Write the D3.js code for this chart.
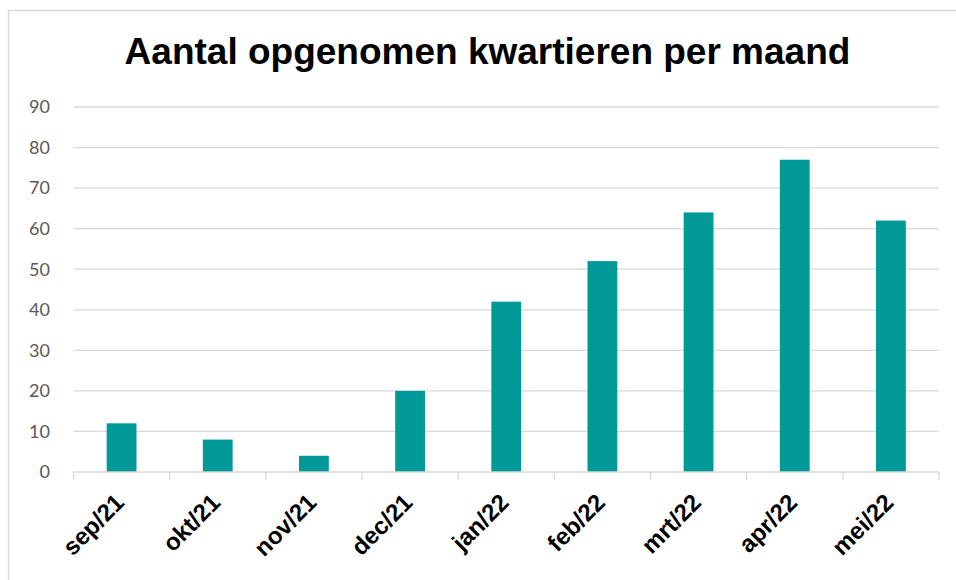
<!DOCTYPE html>
<html>
<head>
<meta charset="utf-8">
<script src="https://cdn.jsdelivr.net/npm/d3@7"></script>
<style>
  body { margin: 0; background: #fff; }
  svg { display: block; }
</style>
</head>
<body>
<script>
// data
var months = ["sep/21", "okt/21", "nov/21", "dec/21", "jan/22", "feb/22", "mrt/22", "apr/22", "mei/22"];
var kwartieren = [12, 8, 4, 20, 42, 52, 64, 77, 62];
var yTicks = [0, 10, 20, 30, 40, 50, 60, 70, 80, 90];
var title = "Aantal opgenomen kwartieren per maand";

var width = 956, height = 580;
var margin = { top: 107, right: 17, bottom: 108, left: 73.5 };

var svg = d3.select("body").append("svg")
    .attr("width", width)
    .attr("height", height);

// chart border
svg.append("rect")
    .attr("x", 8.5).attr("y", 10.5)
    .attr("width", 980).attr("height", 620)
    .attr("fill", "none")
    .attr("stroke", "#d9d9d9")
    .attr("stroke-width", 1.5);

svg.append("text")
    .attr("x", 487.5).attr("y", 64)
    .attr("text-anchor", "middle")
    .attr("font-family", "Liberation Sans, Arial, sans-serif")
    .attr("font-weight", "bold")
    .attr("font-size", 37)
    .attr("fill", "#000")
    .text(title);

var x = d3.scaleBand()
    .domain(months)
    .range([margin.left, width - margin.right])
    .paddingInner(0.69)
    .paddingOuter(0.345);

var xOuter = d3.scaleBand()
    .domain(months)
    .range([margin.left, width - margin.right]);

var y = d3.scaleLinear()
    .domain([0, 90])
    .range([height - margin.bottom, margin.top]);

// gridlines
svg.append("g")
    .selectAll("line")
    .data(yTicks.filter(function (d) { return d > 0; }))
    .enter().append("line")
    .attr("x1", margin.left).attr("x2", width - margin.right)
    .attr("y1", function (d) { return y(d); })
    .attr("y2", function (d) { return y(d); })
    .attr("stroke", "#d9d9d9")
    .attr("stroke-width", 1.3);

// y labels
svg.append("g")
    .selectAll("text")
    .data(yTicks)
    .enter().append("text")
    .attr("x", 50)
    .attr("y", function (d) { return y(d); })
    .attr("dy", "0.35em")
    .attr("text-anchor", "end")
    .attr("font-family", "Lato, Open Sans, sans-serif")
    .attr("font-size", 18)
    .attr("fill", "#595959")
    .text(function (d) { return d; });

// bars
svg.append("g")
    .selectAll("rect")
    .data(kwartieren)
    .enter().append("rect")
    .attr("x", function (d, i) { return x(months[i]); })
    .attr("width", x.bandwidth())
    .attr("y", function (d) { return y(d); })
    .attr("height", function (d) { return y(0) - y(d); })
    .attr("fill", "#009999");

// x axis line and ticks
var base = y(0);
var axis = svg.append("g");
axis.append("line")
    .attr("x1", margin.left).attr("x2", width - margin.right)
    .attr("y1", base).attr("y2", base)
    .attr("stroke", "#d9d9d9")
    .attr("stroke-width", 1.3);
axis.selectAll("line.tick")
    .data(months.concat(["end"]))
    .enter().append("line")
    .attr("class", "tick")
    .attr("x1", function (d, i) { return i < months.length ? xOuter(d) : width - margin.right; })
    .attr("x2", function (d, i) { return i < months.length ? xOuter(d) : width - margin.right; })
    .attr("y1", base).attr("y2", base + 8)
    .attr("stroke", "#d9d9d9")
    .attr("stroke-width", 1.3);

// x labels
axis.selectAll("text")
    .data(months)
    .enter().append("text")
    .attr("transform", function (d) {
        var cx = xOuter(d) + xOuter.bandwidth() / 2 - 2;
        return "translate(" + cx + "," + (base + 26) + ") rotate(-45)";
    })
    .attr("text-anchor", "end")
    .attr("dy", "0.35em")
    .attr("font-family", "Liberation Sans, Arial, sans-serif")
    .attr("font-weight", "bold")
    .attr("font-size", 24)
    .attr("fill", "#000")
    .text(function (d) { return d; });
</script>
</body>
</html>
